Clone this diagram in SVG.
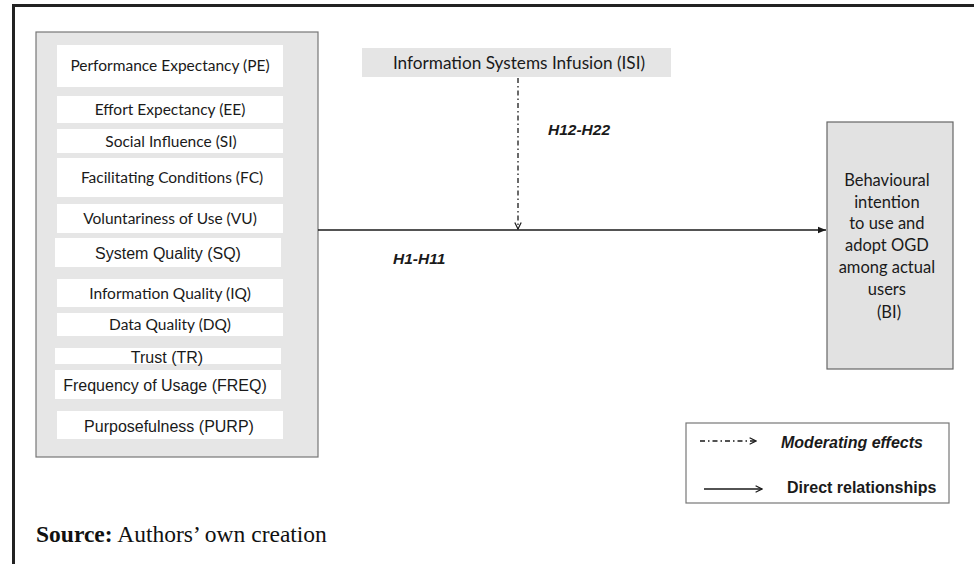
<svg xmlns="http://www.w3.org/2000/svg" width="974" height="564" viewBox="0 0 974 564">
<style>
.cal{font-family:Lato,"Open Sans","Noto Sans",sans-serif;fill:#1a1a1a;text-anchor:middle}
.ar{font-family:"Liberation Sans",Arial,sans-serif;fill:#1a1a1a;text-anchor:middle}
.item{fill:#ffffff;stroke:none}
.lbl{font-family:"Liberation Sans",Arial,sans-serif;font-weight:bold;font-style:italic;fill:#1a1a1a}
</style>
<defs>
<marker id="ah" viewBox="0 0 10 10" refX="10" refY="5" markerWidth="8" markerHeight="8" markerUnits="userSpaceOnUse" orient="auto">
<path d="M0,1 L10,5 L0,9 Z" fill="#1a1a1a"/>
</marker>
<marker id="ao" viewBox="0 0 10 10" refX="9" refY="5" markerWidth="8" markerHeight="8" markerUnits="userSpaceOnUse" orient="auto">
<path d="M1,1 L9,5 L1,9" fill="none" stroke="#1a1a1a" stroke-width="1.5"/>
</marker>
</defs>
<rect width="974" height="564" fill="#ffffff"/>
<!-- frame -->
<line x1="13.5" y1="4" x2="13.5" y2="564" stroke="#222" stroke-width="3"/>
<line x1="12" y1="5.5" x2="974" y2="5.5" stroke="#222" stroke-width="3"/>

<g id="predictors">
<rect x="36" y="32" width="282" height="425" fill="#e6e6e6" stroke="#777" stroke-width="1.2"/>
<g id="PE"><rect class="item" x="57" y="45" width="226" height="42"/><text class="cal" x="170" y="71" font-size="15.5">Performance Expectancy (PE)</text></g>
<g id="EE"><rect class="item" x="57" y="96" width="226" height="27"/><text class="cal" x="170" y="115" font-size="15.5">Effort Expectancy (EE)</text></g>
<g id="SI"><rect class="item" x="57" y="129" width="226" height="24"/><text class="cal" x="171" y="147" font-size="15.5">Social Influence (SI)</text></g>
<g id="FC"><rect class="item" x="57" y="158" width="226" height="39"/><text class="cal" x="172" y="183" font-size="15.5">Facilitating Conditions (FC)</text></g>
<g id="VU"><rect class="item" x="57" y="204" width="226" height="29"/><text class="cal" x="170" y="224" font-size="15.5">Voluntariness of Use (VU)</text></g>
<g id="SQ"><rect class="item" x="55" y="238" width="226" height="29"/><text class="ar" x="168" y="259" font-size="16">System Quality (SQ)</text></g>
<g id="IQ"><rect class="item" x="57" y="279" width="226" height="28"/><text class="cal" x="170" y="299" font-size="15.5">Information Quality (IQ)</text></g>
<g id="DQ"><rect class="item" x="57" y="313" width="226" height="23"/><text class="cal" x="170" y="330" font-size="15.5">Data Quality (DQ)</text></g>
<g id="TR"><rect class="item" x="55" y="348" width="226" height="16"/><text class="ar" x="167" y="363" font-size="16">Trust (TR)</text></g>
<g id="FREQ"><rect class="item" x="55" y="370" width="226" height="29"/><text class="ar" x="165" y="391" font-size="16">Frequency of Usage (FREQ)</text></g>
<g id="PURP"><rect class="item" x="57" y="411" width="226" height="28"/><text class="ar" x="169" y="432" font-size="16">Purposefulness (PURP)</text></g>
</g>

<g id="ISI">
<rect x="362" y="48" width="309" height="29" fill="#e5e5e5"/>
<text class="cal" x="519" y="69" font-size="17.2">Information Systems Infusion (ISI)</text>
</g>

<g id="BI">
<rect x="827" y="122" width="126" height="247" fill="#e2e2e2" stroke="#666" stroke-width="1.2"/>
<text class="cal" font-size="16.5">
<tspan x="889" y="186">Behavioural</tspan>
<tspan x="889" y="208">intention</tspan>
<tspan x="889" y="229">to use and</tspan>
<tspan x="889" y="251">adopt OGD</tspan>
<tspan x="889" y="273">among actual</tspan>
<tspan x="889" y="295">users</tspan>
<tspan x="889" y="318">(BI)</tspan>
</text>
</g>

<g id="connectors">
<line x1="318" y1="230" x2="826" y2="230" stroke="#1a1a1a" stroke-width="1.6" marker-end="url(#ah)"/>
<line x1="518" y1="78" x2="518" y2="229" stroke="#1a1a1a" stroke-width="1.3" stroke-dasharray="5,3,1.5,3" marker-end="url(#ao)"/>
<text class="lbl" x="548" y="135" font-size="15.5">H12-H22</text>
<text class="lbl" x="393" y="264" font-size="15.5">H1-H11</text>
</g>

<g id="legend">
<rect x="686" y="423" width="263" height="80" fill="#ffffff" stroke="#777" stroke-width="1.2"/>
<line x1="700" y1="441" x2="756" y2="441" stroke="#1a1a1a" stroke-width="1.3" stroke-dasharray="5,3,1.5,3" marker-end="url(#ao)"/>
<text class="lbl" x="781" y="448" font-size="16">Moderating effects</text>
<line x1="704" y1="489" x2="762" y2="489" stroke="#1a1a1a" stroke-width="1.5" marker-end="url(#ao)"/>
<text x="787" y="493" font-family="'Liberation Sans',Arial,sans-serif" font-weight="bold" font-size="16" fill="#1a1a1a">Direct relationships</text>
</g>

<text x="36" y="542" font-family="'Liberation Serif','Times New Roman',serif" font-size="23.5" fill="#111"><tspan font-weight="bold">Source:</tspan> Authors’ own creation</text>
</svg>
